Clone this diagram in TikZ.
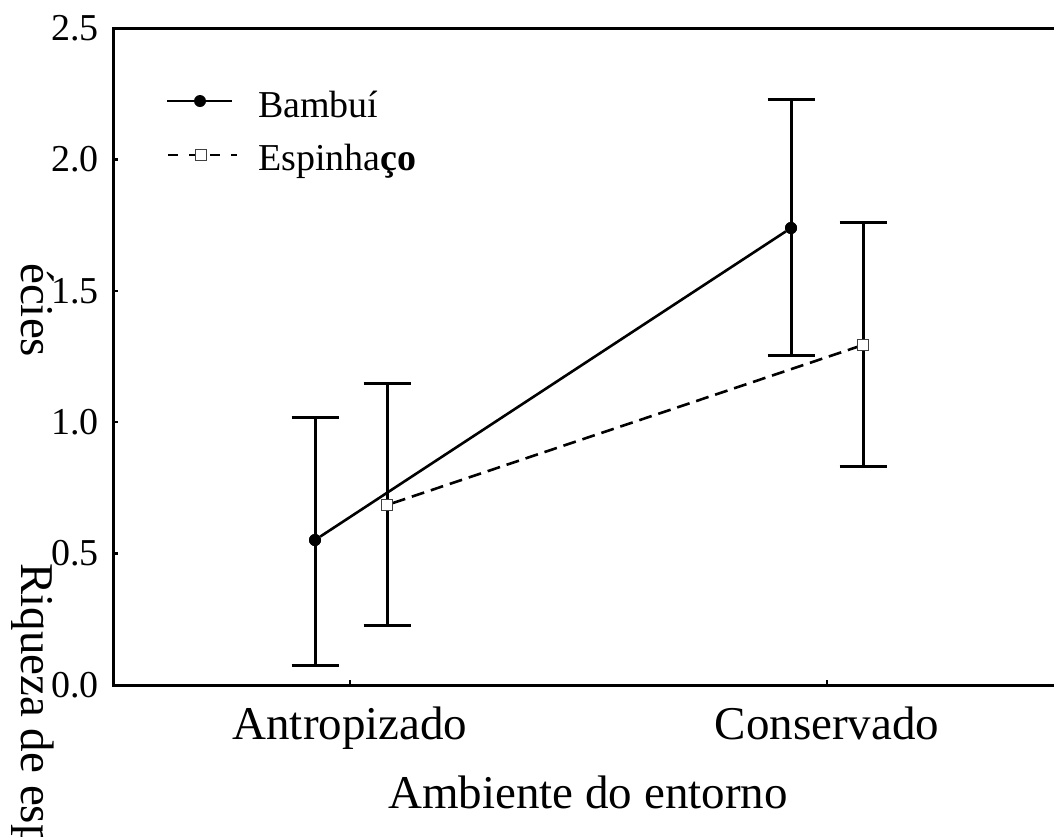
\documentclass[tikz,border=0pt]{standalone}
\usepackage{fontspec}
\setmainfont{Liberation Serif}
\begin{document}
\begin{tikzpicture}[x=1pt,y=-1pt,
  axis/.style={line width=3pt, line join=miter},
  tickline/.style={line width=2.5pt},
  errbar/.style={line width=3pt},
  bline/.style={line width=2.6pt},
  eline/.style={line width=2.6pt, dash pattern=on 13pt off 7pt},
  legeline/.style={line width=2.6pt, dash pattern=on 10pt off 11pt},
  bdot/.style={circle, fill=black, inner sep=0pt, minimum size=12pt},
  esq/.style={rectangle, draw=black!75, fill=white, line width=1.2pt, inner sep=0pt, minimum size=10.5pt},
  ticklab/.style={anchor=east, inner sep=0pt, font=\fontsize{38}{40}\selectfont},
  leglab/.style={anchor=base west, inner sep=0pt, font=\fontsize{38}{40}\selectfont},
  biglab/.style={inner sep=0pt, font=\fontsize{47}{50}\selectfont}
]
\useasboundingbox (0,0) rectangle (1054,836);
\clip (0,0) rectangle (1054,836);
\fill[white] (0,0) rectangle (1054,836);

% frame
\coordinate (tr) at (1054,28);
\coordinate (tl) at (113,28);
\coordinate (bl) at (113,685);
\coordinate (br) at (1054,685);
\draw[axis] (tr) -- (tl) -- (bl) -- (br);

% y ticks and labels
\foreach \i/\v/\lab in {0/0/0.0, 1/0.5/0.5, 2/1/1.0, 3/1.5/1.5, 4/2/2.0, 5/2.5/2.5} {
  \pgfmathsetmacro{\yy}{685-262.8*\v}
  \coordinate (yt\i) at (113,\yy);
  \draw[tickline] (yt\i) -- ++(5,0);
  \node[ticklab] (yl\i) at (99,\yy) {\lab};
}

% x ticks
\coordinate (xt1) at (350,685);
\coordinate (xt2) at (827,685);
\draw[tickline] (xt1) -- ++(0,-5);
\draw[tickline] (xt2) -- ++(0,-5);

% x labels
\node[biglab, anchor=base] (xl1) at (350,739) {Antropizado};
\node[biglab, anchor=base] (xl2) at (827,739) {Conservado};
\node[biglab, anchor=base] (xtitle) at (588,808) {Ambiente do entorno};

% y title (wrapped as printed)
\node[biglab, anchor=base west, rotate=-90] (ytitleA) at (21,563) {Riqueza de esp};
\node[biglab, anchor=base west, rotate=-90] (ytitleB) at (21,263) {écies};

% error bars
\foreach \n/\x/\lo/\hi in {ba/315/665/417, ea/387/625/383, bc/791/355/99, ec/863/466/222} {
  \coordinate (\n lo) at (\x,\lo);
  \coordinate (\n hi) at (\x,\hi);
  \draw[errbar] (\n lo) -- (\n hi);
  \draw[errbar] ([xshift=-23.5pt]\n lo) -- ([xshift=23.5pt]\n lo);
  \draw[errbar] ([xshift=-23.5pt]\n hi) -- ([xshift=23.5pt]\n hi);
}

% means
\node[bdot] (ba) at (315,540) {};
\node[bdot] (bc) at (791,228) {};
\node[esq] (ea) at (387,505) {};
\node[esq] (ec) at (863,345) {};

\draw[bline] (ba) -- (bc);
\draw[eline] (ea) -- (ec);
\node[bdot] at (ba) {};
\node[bdot] at (bc) {};
\node[esq] at (ea) {};
\node[esq] at (ec) {};

% legend
\coordinate (l1a) at (167,101);
\coordinate (l1b) at (232,101);
\draw[bline] (l1a) -- (l1b);
\node[bdot] (l1m) at (200,101) {};
\node[leglab] (l1t) at (258,117) {Bambuí};

\coordinate (l2a) at (168,155);
\coordinate (l2b) at (237,155);
\draw[legeline] (l2a) -- (l2b);
\node[esq] (l2m) at (201,155) {};
\node[leglab] (l2t) at (258,170) {Espinha\textbf{ço}};
\end{tikzpicture}
\end{document}
